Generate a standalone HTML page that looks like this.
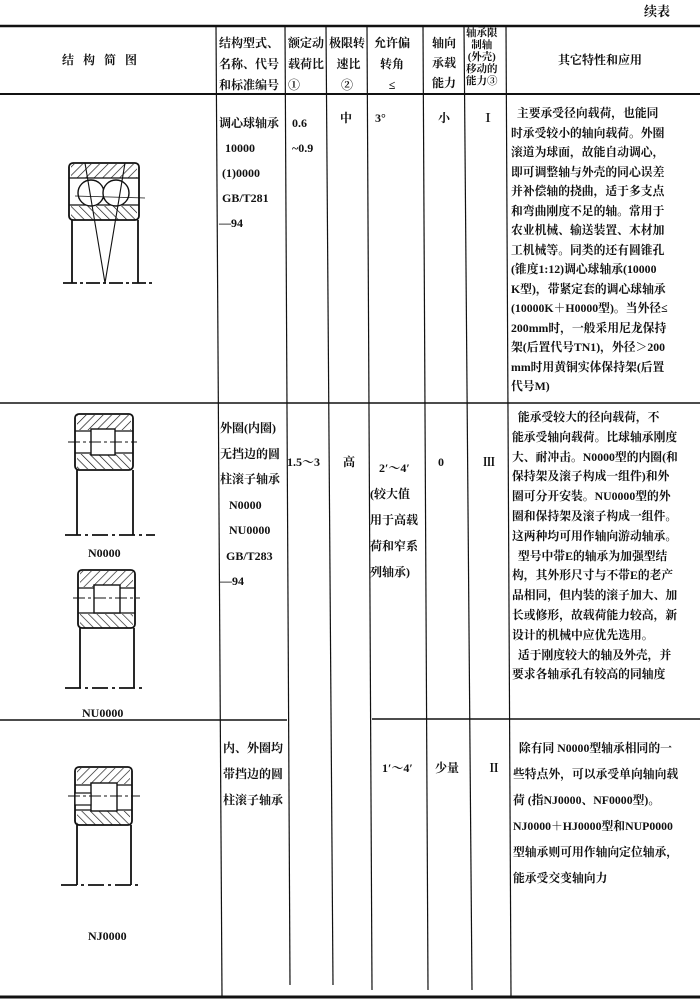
<!DOCTYPE html>
<html><head><meta charset="utf-8"><style>
body{margin:0;background:#fff;}
#c{position:relative;width:700px;height:1001px;overflow:hidden;background:#fff;font-family:"Liberation Serif","Noto Serif CJK SC",serif;color:#111;font-weight:bold;}
.t{position:absolute;font-size:12px;line-height:14px;white-space:nowrap;}
.s{font-size:10.5px;line-height:12px;}
.p{position:absolute;font-size:12px;white-space:nowrap;}
</style></head><body><div id="c">
<svg width="700" height="1001" style="position:absolute;left:0;top:0">
<defs>
<pattern id="h1" width="6" height="6" patternUnits="userSpaceOnUse" patternTransform="rotate(45)"><line x1="0" y1="0" x2="0" y2="6" stroke="#111" stroke-width="1.3"/></pattern>
<pattern id="h2" width="6" height="6" patternUnits="userSpaceOnUse" patternTransform="rotate(-45)"><line x1="0" y1="0" x2="0" y2="6" stroke="#111" stroke-width="1.3"/></pattern>
</defs>
<g stroke="#111" fill="none">
<line x1="0" y1="26" x2="700" y2="26" stroke-width="2.5"/>
<line x1="0" y1="94" x2="700" y2="94" stroke-width="2"/>
<line x1="0" y1="403" x2="700" y2="403" stroke-width="1.6"/>
<line x1="0" y1="720" x2="287" y2="720" stroke-width="1.4"/>
<line x1="372" y1="719" x2="700" y2="719" stroke-width="1.4"/>
<line x1="0" y1="997" x2="700" y2="997" stroke-width="3"/>
<g stroke-width="1.2">
<line x1="216" y1="26" x2="222" y2="996"/>
<line x1="285" y1="26" x2="290" y2="985"/>
<line x1="326" y1="26" x2="333" y2="985"/>
<line x1="367" y1="26" x2="372" y2="990"/>
<line x1="423" y1="26" x2="428" y2="990"/>
<line x1="464" y1="26" x2="472" y2="990"/>
<line x1="506" y1="26" x2="511" y2="996"/>
</g>
<g stroke-width="1.8">
<rect x="69" y="163" width="70" height="57" rx="4"/>
<rect x="71" y="164" width="66" height="14" fill="url(#h1)" stroke="none"/>
<rect x="71" y="206" width="66" height="14" fill="url(#h2)" stroke="none"/>
<line x1="69" y1="178" x2="139" y2="178" stroke-width="1.2"/>
<line x1="69" y1="205" x2="139" y2="205" stroke-width="1.2"/>
<circle cx="91" cy="193" r="13" fill="#fff" stroke-width="1.4"/>
<circle cx="116" cy="193" r="13" fill="#fff" stroke-width="1.4"/>
<line x1="72" y1="220" x2="72" y2="283"/>
<line x1="138" y1="220" x2="138" y2="283"/>
<line x1="63" y1="283" x2="152" y2="283" stroke-dasharray="14 3 3 3"/>
<line x1="85" y1="163" x2="105" y2="283" stroke-width="1.1"/>
<line x1="125" y1="163" x2="105" y2="283" stroke-width="1.1"/>
<line x1="75" y1="196" x2="145" y2="198" stroke-width="0.8"/>
</g>
<g stroke-width="1.8">
<rect x="75" y="414" width="58" height="56" rx="4"/>
<rect x="77" y="415" width="54" height="15" fill="url(#h1)" stroke="none"/>
<rect x="77" y="454" width="54" height="15" fill="url(#h2)" stroke="none"/>
<line x1="75" y1="431" x2="133" y2="431" stroke-width="1.2"/>
<line x1="75" y1="453" x2="133" y2="453" stroke-width="1.2"/>
<rect x="91" y="429" width="24" height="26" fill="#fff" stroke-width="1.4"/>
<line x1="68" y1="442" x2="137" y2="442" stroke-width="1" stroke-dasharray="12 3 3 3"/>
<line x1="77" y1="470" x2="77" y2="535"/>
<line x1="133" y1="470" x2="133" y2="535"/>
<line x1="65" y1="535" x2="155" y2="535" stroke-dasharray="16 4 3 4"/>
</g>
<g stroke-width="1.8">
<rect x="78" y="570" width="57" height="58" rx="4"/>
<rect x="80" y="571" width="53" height="16" fill="url(#h1)" stroke="none"/>
<rect x="80" y="614" width="53" height="14" fill="url(#h2)" stroke="none"/>
<line x1="78" y1="588" x2="135" y2="588" stroke-width="1.2"/>
<line x1="78" y1="613" x2="135" y2="613" stroke-width="1.2"/>
<rect x="94" y="585" width="26" height="28" fill="#fff" stroke-width="1.4"/>
<line x1="73" y1="598" x2="140" y2="598" stroke-width="1" stroke-dasharray="12 3 3 3"/>
<line x1="80" y1="628" x2="80" y2="688"/>
<line x1="134" y1="628" x2="134" y2="688"/>
<line x1="65" y1="688" x2="146" y2="688" stroke-dasharray="16 4 3 4"/>
</g>
<g stroke-width="1.8">
<rect x="75" y="767" width="57" height="58" rx="4"/>
<rect x="77" y="768" width="53" height="16" fill="url(#h1)" stroke="none"/>
<rect x="77" y="811" width="53" height="14" fill="url(#h2)" stroke="none"/>
<line x1="75" y1="785" x2="132" y2="785" stroke-width="1.2"/>
<line x1="75" y1="810" x2="132" y2="810" stroke-width="1.2"/>
<rect x="91" y="783" width="26" height="28" fill="#fff" stroke-width="1.4"/>
<rect x="75" y="793" width="16" height="12" fill="#fff" stroke-width="1.2"/>
<line x1="68" y1="796" x2="140" y2="796" stroke-width="1" stroke-dasharray="12 3 3 3"/>
<line x1="77" y1="825" x2="77" y2="885"/>
<line x1="131" y1="825" x2="131" y2="885"/>
<line x1="61" y1="885" x2="140" y2="885" stroke-dasharray="16 4 3 4"/>
</g>
</g>
</svg>

<div class="p" style="left:644px;top:1px;font-size:13px">续表</div>
<div class="t" style="left:62px;top:53px;letter-spacing:9px">结构简图</div>
<div class="t" style="left:219px;top:33px;line-height:21px">结构型式、<br>名称、代号<br>和标准编号</div>
<div class="t" style="left:288px;top:33px;line-height:21px">额定动<br>载荷比<br>①</div>
<div class="t" style="left:329px;top:33px;line-height:21px;text-align:center">极限转<br>&nbsp;速比<br>②</div>
<div class="t" style="left:374px;top:33px;line-height:21px;text-align:center">允许偏<br>转角<br>≤</div>
<div class="t" style="left:432px;top:33px;line-height:20px;text-align:center">轴向<br>承载<br>能力</div>
<div class="t s" style="left:466px;top:28px;text-align:center">轴承限<br>制轴<br>(外壳)<br>移动的<br>能力③</div>
<div class="t" style="left:558px;top:53px">其它特性和应用</div>

<div class="t" style="left:219px;top:111px;line-height:25px">调心球轴承<br>&nbsp;&nbsp;10000<br>&nbsp;(1)0000<br>&nbsp;GB/T281<br>—94</div>
<div class="t" style="left:292px;top:111px;line-height:25px">0.6<br>~0.9</div>
<div class="t" style="left:340px;top:111px">中</div>
<div class="t" style="left:375px;top:111px">3°</div>
<div class="t" style="left:438px;top:111px">小</div>
<div class="t" style="left:482px;top:111px">Ⅰ</div>
<div class="t" style="left:511px;top:104px;line-height:19.5px;font-size:11.8px">&nbsp;&nbsp;主要承受径向载荷，也能同<br>时承受较小的轴向载荷。外圈<br>滚道为球面，故能自动调心，<br>即可调整轴与外壳的同心误差<br>并补偿轴的挠曲，适于多支点<br>和弯曲刚度不足的轴。常用于<br>农业机械、输送装置、木材加<br>工机械等。同类的还有圆锥孔<br>(锥度1:12)调心球轴承(10000<br>K型)，带紧定套的调心球轴承<br>(10000K＋H0000型)。当外径≤<br>200mm时，一般采用尼龙保持<br>架(后置代号TN1)，外径＞200<br>mm时用黄铜实体保持架(后置<br>代号M)</div>

<div class="t" style="left:220px;top:416px;line-height:25.5px">外圈(内圈)<br>无挡边的圆<br>柱滚子轴承<br>&nbsp;&nbsp;&nbsp;N0000<br>&nbsp;&nbsp;&nbsp;NU0000<br>&nbsp;&nbsp;GB/T283<br>—94</div>
<div class="p" style="left:88px;top:546px">N0000</div>
<div class="p" style="left:82px;top:706px">NU0000</div>
<div class="t" style="left:287px;top:455px">1.5～3</div>
<div class="t" style="left:343px;top:455px">高</div>
<div class="t" style="left:370px;top:455px;line-height:26px">&nbsp;&nbsp;&nbsp;2′～4′<br>(较大值<br>用于高载<br>荷和窄系<br>列轴承)</div>
<div class="t" style="left:438px;top:455px">0</div>
<div class="t" style="left:483px;top:455px">Ⅲ</div>
<div class="t" style="left:512px;top:408px;line-height:19.8px;font-size:11.8px">&nbsp;&nbsp;能承受较大的径向载荷，不<br>能承受轴向载荷。比球轴承刚度<br>大、耐冲击。N0000型的内圈(和<br>保持架及滚子构成一组件)和外<br>圈可分开安装。NU0000型的外<br>圈和保持架及滚子构成一组件。<br>这两种均可用作轴向游动轴承。<br>&nbsp;&nbsp;型号中带E的轴承为加强型结<br>构，其外形尺寸与不带E的老产<br>品相同，但内装的滚子加大、加<br>长或修形，故载荷能力较高，新<br>设计的机械中应优先选用。<br>&nbsp;&nbsp;适于刚度较大的轴及外壳，并<br>要求各轴承孔有较高的同轴度</div>

<div class="t" style="left:223px;top:735px;line-height:26px">内、外圈均<br>带挡边的圆<br>柱滚子轴承</div>
<div class="p" style="left:88px;top:929px">NJ0000</div>
<div class="t" style="left:382px;top:761px">1′～4′</div>
<div class="t" style="left:435px;top:761px">少量</div>
<div class="t" style="left:488px;top:761px">Ⅱ</div>
<div class="t" style="left:513px;top:735px;line-height:26px;font-size:11.8px">&nbsp;&nbsp;除有同 N0000型轴承相同的一<br>些特点外，可以承受单向轴向载<br>荷 (指NJ0000、NF0000型)。<br>NJ0000＋HJ0000型和NUP0000<br>型轴承则可用作轴向定位轴承，<br>能承受交变轴向力</div>
</div></body></html>
